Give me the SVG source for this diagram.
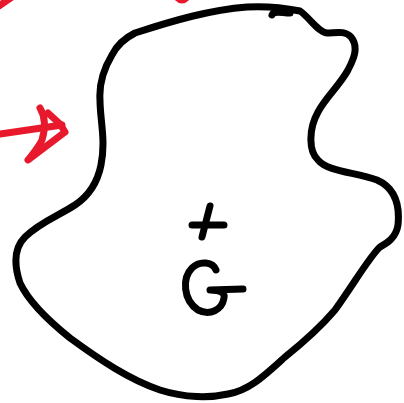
<svg xmlns="http://www.w3.org/2000/svg" width="404" height="403" viewBox="0 0 404 403">
<style>
.k{fill:none;stroke:#000;stroke-width:7;stroke-linecap:round;stroke-linejoin:round}
.r{fill:none;stroke:#e8192c;stroke-width:7;stroke-linecap:round;stroke-linejoin:round}
</style>
<rect width="404" height="403" fill="#fff"/>
<g id="shape">
<path class="k" d="M135,33 C175,20 210,10 247,7 C265,6 285,8 300,11 C310,18 318,32 327,33 C335,33 345,30 351,37 C360,48 352,62 348,70 C340,85 325,98 318,112 C308,130 309,152 318,160 C328,172 355,172 377,180 C395,188 400,205 398,225 C396,238 387,243 380,247 C370,256 355,282 335,310 C318,330 300,345 285,357 C265,375 250,390 228,394 C210,398 185,398 160,390 C130,380 100,360 70,338 C45,318 28,300 20,283 C14,265 14,248 25,237 C40,222 60,215 75,205 C90,195 98,180 101,165 C106,140 100,120 100,100 C99,85 103,70 112,55 C117,45 125,38 135,33 Z"/>
<path class="k" d="M272,15 C274,10 282,13 290,13"/>
</g>
<g id="label">
<path class="k" d="M192,225 L224,225 M210,206 L202,237"/>
<path class="k" d="M216,270 C213,262 200,260 192,268 C182,278 183,300 198,310 C210,316 222,310 224,298 C225,294 222,290 210,290 L243,289"/>
</g>
<g id="arrow">
<path class="r" d="M0,134 L62,125"/>
<path class="r" d="M40,108 C46,118 45,130 42,140 C38,148 32,155 28,160 L65,132 L60,124 L48,113"/>
<path class="r" d="M-4,8 L12,-3"/>
<path class="r" d="M176,-4 Q182,4 188,-4"/>
</g>
</svg>
